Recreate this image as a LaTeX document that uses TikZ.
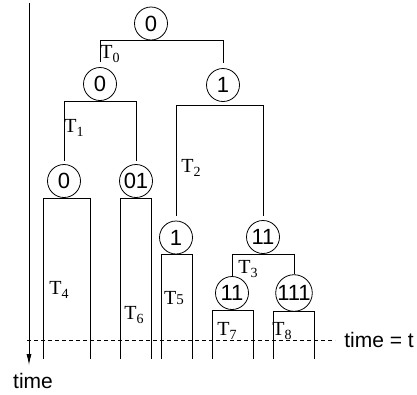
\documentclass[tikz,border=0pt]{standalone}
\usepackage{fontspec}
\setmainfont{Liberation Sans}
\newfontfamily\tfont{Liberation Serif}
\usetikzlibrary{arrows.meta}

\tikzset{
    state/.style={draw, circle, minimum size=33pt, inner sep=0pt,
        font=\fontsize{22}{24}\selectfont},
    tlabel/.style={font=\tfont\fontsize{20}{22}\selectfont, inner sep=0pt}
}
\newcommand{\tsub}[1]{T\raisebox{-4pt}{\fontsize{14}{14}\selectfont #1}}

\begin{document}
\begin{tikzpicture}[x=1pt, y=-1pt, line width=0.8pt]
        \useasboundingbox (0,0) rectangle (417,394);

        % Time axis
        \draw[-{Latex[length=11pt,width=5pt]}] (29,3) -- (29,365);
        \node[font=\fontsize{21}{24}\selectfont, inner sep=0pt] (time) at (33,381) {time};

        % States of the tree
        \node[state] (root) at (151,23.5) {0};
        \node[state] (s0) at (100,84) {0};
        \node[state] (s1) at (223,85) {1};
        \node[state] (s00) at (64,181) {0};
        \node[state] (s01) at (136,181) {01};
        \node[state] (s10) at (176,237.5) {1};
        \node[state] (s11) at (263,237) {11};
        \node[state] (s110) at (232,293) {11};
        \node[state] (s111) at (294,293) {111};

        % Branches
        \draw[shorten >=5pt] (root.south) -| (s0);
        \draw[shorten >=5pt] (root.south) -| (s1);
        \draw[shorten >=3pt] (s0.south) -| (s00);
        \draw[shorten >=3pt] (s0.south) -| (s01);
        \draw[shorten >=5pt] ([yshift=-3pt]s1.south) -| (s10);
        \draw[shorten >=4pt] ([yshift=-3pt]s1.south) -| (s11);
        \draw (s11.south) -| (s110);
        \draw (s11.south) -| (s111);

        % Leaves run on in time
        \draw (43,359) |- (s00.south) -| (90,359);
        \draw (120,359) |- (s01.south) -| (151,359);
        \draw (161,359) |- (s10.south) -| (192,359);
        \draw (212,359) |- (s110.south) -| (253,359);
        \draw (273,359) |- (s111.south) -| (314,359);

        % Interval labels
        \node[tlabel] (t0) at (110,54) {\tsub{0}};
        \node[tlabel] (t1) at (74,128) {\tsub{1}};
        \node[tlabel] (t2) at (191,168) {\tsub{2}};
        \node[tlabel] (t3) at (248,269) {\tsub{3}};
        \node[tlabel] (t4) at (59,290) {\tsub{4}};
        \node[tlabel] (t5) at (174,298) {T{\fontsize{15}{15}\selectfont 5}};
        \node[tlabel] (t6) at (134,315) {\tsub{6}};
        \node[tlabel] (t7) at (227,331) {\tsub{7}};
        \node[tlabel] (t8) at (282,331) {\tsub{8}};

        % Current time
        \coordinate (now) at (27,340);
        \draw[dash pattern=on 4pt off 3pt, line width=0.6pt] (now) -- (335,340)
            node[right=9pt, font=\fontsize{21}{24}\selectfont, inner sep=0pt] (tnow) {time = t};
    \end{tikzpicture}
\end{document}
